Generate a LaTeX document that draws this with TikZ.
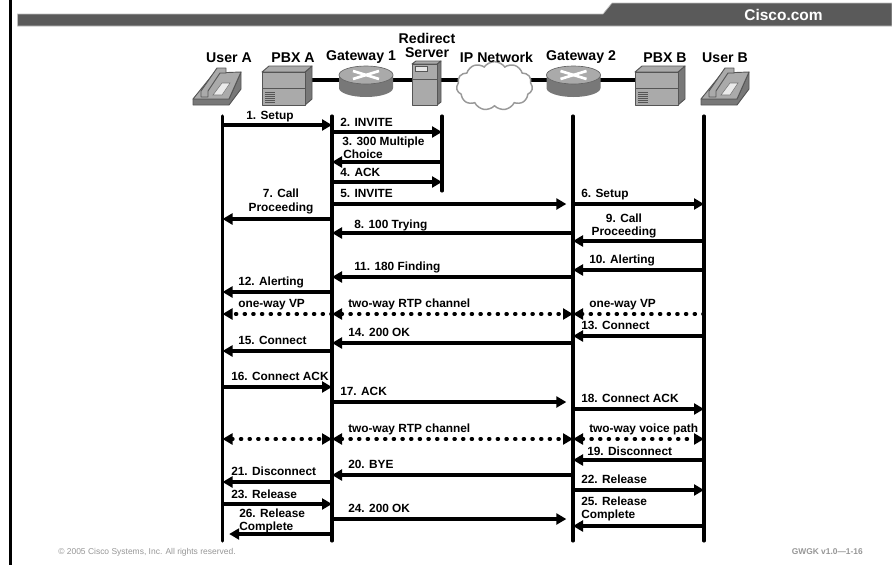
\documentclass[tikz,border=0pt]{standalone}
\usepackage{fontspec}
\setmainfont{Liberation Sans}
\usetikzlibrary{arrows.meta, shapes.symbols}
\definecolor{band}{RGB}{90,90,90}
\definecolor{bandedge}{RGB}{190,190,190}
\definecolor{icon}{RGB}{170,170,170}
\definecolor{icondark}{RGB}{120,120,120}
\definecolor{iconedge}{RGB}{85,85,85}
\definecolor{footgray}{RGB}{150,150,150}
\newcommand{\lbl}[3]{\node[msgtext] at (#1,#2) {#3};}

\begin{document}
\begin{tikzpicture}[x=0.75pt, y=-0.75pt,
    title/.style={font=\fontsize{10.6}{12.5}\selectfont\bfseries, align=center, anchor=base, inner sep=0pt},
    msgtext/.style={font=\fontsize{8.9}{10}\selectfont\bfseries, anchor=base west, inner sep=0pt},
    centertext/.style={font=\fontsize{8.9}{10}\selectfont\bfseries, anchor=base, inner sep=0pt},
    lifeline/.style={line width=2.3pt, line cap=round},
    msg/.style={-{Triangle[length=7.5pt,width=8.2pt]}, line width=2.3pt},
    short/.style={shorten >=5pt},
    voice/.style={{Triangle[length=7.5pt,width=8.2pt]}-{Triangle[length=7.5pt,width=8.2pt]},
                  line width=2.6pt, line cap=round, dash pattern=on 0.8pt off 5.7pt},
    voiceleft/.style={-{Triangle[length=7.5pt,width=8.2pt]},
                  line width=2.6pt, line cap=round, dash pattern=on 0.8pt off 5.7pt},
    face/.style={fill=icon, draw=iconedge, line width=0.7pt, line join=round},
    side/.style={fill=icondark, draw=iconedge, line width=0.7pt, line join=round},
    pics/phone/.style={code={
      \draw[side] (0,37) -- (36,37) -- (48,21) -- (48,4) -- (36,31) -- (0,31) -- cycle;
      \draw[face] (0,31) -- (21,5) -- (48,4) -- (36,31) -- cycle;
      \draw[fill=white!75!icon, draw=icondark, line width=0.4pt] (20,27) -- (29,15) -- (37,15) -- (29,27) -- cycle;
      \draw[face] (8,29) -- (8,23) -- (24,0) -- (33,0) -- (33,5) -- (27,5) -- (15,23) -- (15,29) -- cycle;
    }},
    pics/pbx/.style={code={
      \fill[white] (0,6) rectangle (43,39);
      \draw[side] (43,6) -- (50,0) -- (50,33) -- (43,39) -- cycle;
      \draw[face] (0,6) -- (7,0) -- (50,0) -- (43,6) -- cycle;
      \draw[face] (0,6) rectangle (43,39);
      \draw[iconedge, line width=0.7pt] (0,22) -- (43,22);
      \foreach \yy in {26,28,...,36} \draw[iconedge, line width=0.5pt] (3,\yy) -- (13,\yy);
    }},
    pics/router/.style={code={
      \fill[icondark] (-27,0) -- (-27,13) arc[start angle=180, end angle=360, x radius=27, y radius=-9] -- (27,0) -- cycle;
      \draw[fill=icon, draw=icon!60!black, line width=0.5pt] (0,0) ellipse[x radius=27, y radius=9];
      \draw[white, line width=2pt] (-13,-4) -- (13,4);
      \draw[white, line width=2pt] (-13,4) -- (13,-4);
    }},
]
\useasboundingbox (0,0) rectangle (892,565);

% header band
\fill[black] (8.5,0) rectangle (12,565);
\draw[fill=band, draw=bandedge, line width=0.5pt] (17.5,14) -- (603,14) -- (612,3) -- (892,3) -- (892,26) -- (17.5,26) -- cycle;
\node[font=\fontsize{11.6}{13}\selectfont\bfseries, text=white, anchor=base, inner sep=0pt] (site) at (783.5,20) {Cisco.com};

% link behind the icons
\coordinate (linkstart) at (300,80);
\coordinate (linkend) at (640,80);
\draw[line width=2.3pt] (linkstart) -- (linkend);

% icons
\pic at (193,68) {phone};
\pic at (262,66) {pbx};
\pic at (366,75) {router};
\draw[side] (437,64) -- (441,61) -- (441,102) -- (437,105) -- cycle;
\draw[face] (412,64) -- (416,61) -- (441,61) -- (437,64) -- cycle;
\draw[face] (412,64) rectangle (437,105);
\draw[iconedge, line width=0.6pt] (412,79) -- (437,79);
\draw[fill=white!70!icon, draw=iconedge, line width=0.4pt] (415,66) rectangle (427,71);
\node[cloud, cloud puffs=11, cloud puff arc=110, aspect=1.6, draw=icon!90!black, fill=white,
      line width=1.1pt, minimum width=57pt, minimum height=36.5pt, inner sep=0pt] (cloud) at (494.5,86) {};
\pic at (573.5,75) {router};
\pic at (635,66) {pbx};
\pic at (701,68) {phone};

% titles
\node[title] (usera) at (229,62) {User A};
\node[title] (pbxa) at (293,62) {PBX A};
\node[title] (gwone) at (361,60) {Gateway 1};
\node[title] (redirect) at (427,43) {Redirect};
\node[title] (server) at (427,57) {Server};
\node[title] (ipnet) at (496.5,62) {IP Network};
\node[title] (gwtwo) at (581,60) {Gateway 2};
\node[title] (pbxb) at (665,62) {PBX B};
\node[title] (userb) at (725,62) {User B};

% lifelines
\coordinate (a) at (222.5,116);
\coordinate (g) at (332,116);
\coordinate (r) at (442,116);
\coordinate (h) at (573,116);
\coordinate (b) at (704,116);
\draw[lifeline] (a) -- (a |- 0,541);
\draw[lifeline] (g) -- (g |- 0,541);
\draw[lifeline] (r) -- (r |- 0,191);
\draw[lifeline] (h) -- (h |- 0,541);
\draw[lifeline] (b) -- (b |- 0,541);

% messages
\draw[msg] (a |- 0,125) -- (g |- 0,125);
\draw[msg] (g |- 0,132) -- (r |- 0,132);
\draw[msg] (r |- 0,162) -- (g |- 0,162);
\draw[msg] (g |- 0,182) -- (r |- 0,182);
\draw[msg, short] (g |- 0,204) -- (h |- 0,204);
\draw[msg] (h |- 0,204) -- (b |- 0,204);
\draw[msg] (g |- 0,219) -- (a |- 0,219);
\draw[msg] (h |- 0,233) -- (g |- 0,233);
\draw[msg] (b |- 0,241) -- (h |- 0,241);
\draw[msg] (b |- 0,270) -- (h |- 0,270);
\draw[msg] (h |- 0,277) -- (g |- 0,277);
\draw[msg] (g |- 0,292) -- (a |- 0,292);
\draw[voiceleft] (g |- 0,314) -- (a |- 0,314);
\draw[voice] (g |- 0,314) -- (h |- 0,314);
\draw[voiceleft] (b |- 0,314) -- (h |- 0,314);
\draw[msg] (b |- 0,336) -- (h |- 0,336);
\draw[msg] (h |- 0,343) -- (g |- 0,343);
\draw[msg] (g |- 0,351) -- (a |- 0,351);
\draw[msg] (a |- 0,387) -- (g |- 0,387);
\draw[msg, short] (g |- 0,402) -- (h |- 0,402);
\draw[msg] (h |- 0,409) -- (b |- 0,409);
\draw[voice] (a |- 0,439) -- (g |- 0,439);
\draw[voice] (g |- 0,439) -- (h |- 0,439);
\draw[voice] (h |- 0,439) -- (b |- 0,439);
\draw[msg] (b |- 0,460) -- (h |- 0,460);
\draw[msg] (h |- 0,475) -- (g |- 0,475);
\draw[msg] (g |- 0,482) -- (a |- 0,482);
\draw[msg] (h |- 0,490) -- (b |- 0,490);
\draw[msg] (a |- 0,504) -- (g |- 0,504);
\draw[msg, short] (g |- 0,519) -- (h |- 0,519);
\draw[msg] (b |- 0,526) -- (h |- 0,526);
\draw[msg, short] (g |- 0,534) -- (a |- 0,534);

% message labels
\lbl{246}{119}{1. Setup}
\lbl{340}{126}{2. INVITE}
\lbl{342}{145}{3. 300 Multiple}
\lbl{343}{158}{Choice}
\lbl{340}{176}{4. ACK}
\lbl{340}{197}{5. INVITE}
\lbl{581}{197}{6. Setup}
\node[centertext] at (281,197) {7. Call};
\node[centertext] at (281,211) {Proceeding};
\lbl{354}{228}{8. 100 Trying}
\node[centertext] at (624,222) {9. Call};
\node[centertext] at (624,235) {Proceeding};
\lbl{589}{263}{10. Alerting}
\lbl{354}{270}{11. 180 Finding}
\lbl{238}{285}{12. Alerting}
\lbl{238}{307}{one-way VP}
\lbl{348}{307}{two-way RTP channel}
\lbl{589}{307}{one-way VP}
\lbl{581}{329}{13. Connect}
\lbl{348}{336}{14. 200 OK}
\lbl{238}{344}{15. Connect}
\lbl{231}{380}{16. Connect ACK}
\lbl{340}{395}{17. ACK}
\lbl{581}{402}{18. Connect ACK}
\lbl{348}{432}{two-way RTP channel}
\lbl{589}{432}{two-way voice path}
\lbl{587}{455}{19. Disconnect}
\lbl{348}{468}{20. BYE}
\lbl{231}{475}{21. Disconnect}
\lbl{581}{483}{22. Release}
\lbl{231}{498}{23. Release}
\lbl{581}{505}{25. Release}
\lbl{348}{512}{24. 200 OK}
\lbl{239}{517}{26. Release}
\lbl{581}{518}{Complete}
\lbl{239}{530}{Complete}

% footer
\node[font=\fontsize{6.35}{7}\selectfont, text=footgray, anchor=base west, inner sep=0pt] (copy) at (58,554) {© 2005 Cisco Systems, Inc. All rights reserved.};
\node[font=\fontsize{6.3}{7}\selectfont\bfseries, text=footgray, anchor=base east, inner sep=0pt] (code) at (863,554) {GWGK v1.0—1-16};
\end{tikzpicture}
\end{document}
